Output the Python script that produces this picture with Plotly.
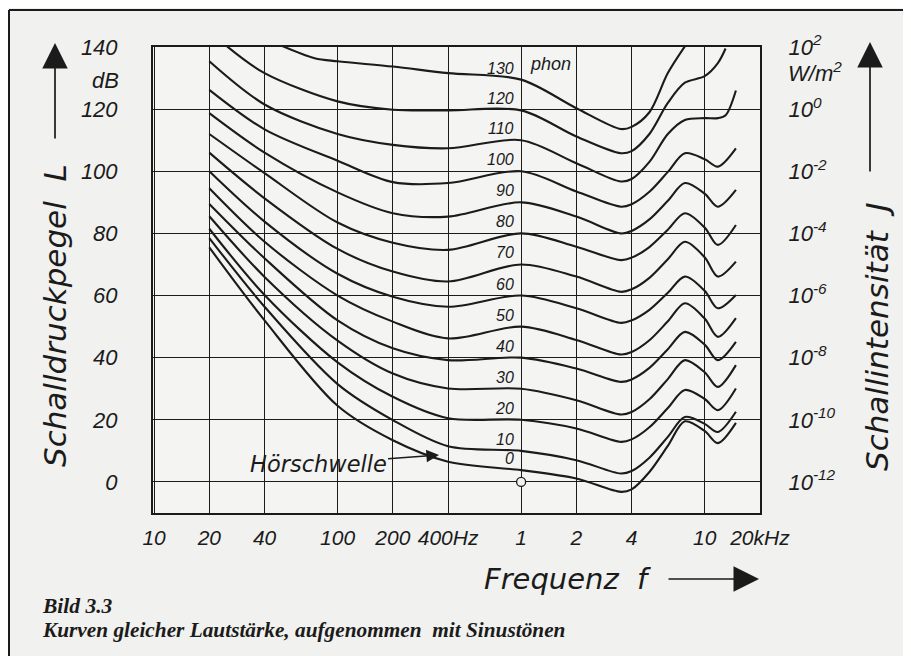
import math
import plotly.graph_objects as go

# ---------------- data ----------------
freq_hz = [20, 25, 40, 50, 75, 100, 200, 400, 1000, 2000, 3500, 4000, 5000, 6300, 7800, 10000, 11800, 13000, 14800]

spl_130 = [None, None, None, 140.3, 136.4, 135.4, 133.7, 131.6, 129.5, 120.3, 113.6, 114.3, 119.0, 131.6, 140.2, None, None, None, None]
spl_120 = [None, 140.2, 131.6, None, None, 122.5, 119.8, 119.6, 119.6, 111.2, 105.8, 106.5, 112.0, 122.0, 128.5, 130.6, 134.8, 139.5, None]
spl_110 = [135.4, None, 121.5, None, None, 112.0, 108.5, 107.4, 110.0, 102.6, 96.7, 97.5, 103.0, 112.0, 116.5, 117.1, 117.1, 118.0, 126.0]
spl_100 = [126.2, None, 113.5, None, None, 103.4, 96.5, 96.2, 100.0, 93.5, 88.6, 89.4, 93.4, 99.8, 105.8, 103.9, 101.5, None, 107.4]
spl_90 = [118.7, None, 106.0, None, None, 93.2, 86.5, 85.4, 90.0, 85.4, 80.0, 80.8, 84.5, 90.5, 96.2, 92.8, 88.6, None, 94.0]
spl_80 = [112.0, None, 99.4, None, None, 83.5, 77.0, 74.7, 80.0, 75.7, 71.4, 72.2, 75.6, 81.2, 86.5, 81.9, 76.3, None, 82.7]
spl_70 = [106.0, None, 91.3, None, None, 75.0, 67.7, 64.5, 70.0, 66.1, 61.2, 62.0, 65.7, 71.7, 77.3, 72.3, 66.1, None, 70.9]
spl_60 = [100.0, None, 83.8, None, None, 67.0, 59.6, 56.4, 60.0, 55.9, 51.2, 52.0, 55.4, 60.9, 66.1, 61.5, 55.9, None, 60.2]
spl_50 = [94.5, None, 77.3, None, None, 60.0, 51.6, 46.2, 50.0, 45.7, 41.0, 41.8, 45.6, 51.7, 57.5, 52.6, 46.7, None, 52.7]
spl_40 = [89.5, None, 72.0, None, None, 52.0, 43.0, 39.2, 40.0, 36.5, 32.2, 33.0, 36.7, 42.7, 48.3, 44.2, 39.2, None, 45.1]
spl_30 = [85.5, None, 66.0, None, None, 45.5, 34.9, 30.1, 30.0, 26.3, 21.7, 22.5, 26.6, 33.1, 39.2, 35.3, 30.6, None, 37.6]
spl_20 = [81.5, None, 60.2, None, None, 38.5, 27.4, 20.5, 20.0, 17.2, 12.9, 13.7, 17.6, 23.8, 29.6, 26.7, 23.1, None, 30.1]
spl_10 = [78.5, None, 56.4, None, None, 31.5, 19.9, 11.5, 10.0, 7.0, 2.7, 3.5, 7.8, 14.5, 20.9, 18.7, 16.1, None, 22.6]
spl_thr = [75.5, None, 52.0, None, None, 24.5, 13.4, 6.5, 3.8, 1.1, -3.2, -2.4, 3.2, 11.6, 19.5, 16.4, 12.5, None, 19.0]

curves = [spl_130, spl_120, spl_110, spl_100, spl_90, spl_80, spl_70,
          spl_60, spl_50, spl_40, spl_30, spl_20, spl_10, spl_thr]
phon_labels = ["130", "120", "110", "100", "90", "80", "70", "60", "50", "40", "30", "20", "10", "0"]

ref_point_hz = [1000]
ref_point_db = [0]

x_tick_vals = [10, 20, 40, 100, 200, 400, 1000, 2000, 4000, 10000, 20000]
x_tick_text = ["10", "20", "40", "100", "200", "400Hz", "1", "2", "4", "10", "20kHz"]
y_tick_vals = [0, 20, 40, 60, 80, 100, 120, 140]
y_tick_text = ["0", "20", "40", "60", "80", "100", "120", "140"]
j_tick_text = ["10<sup>-12</sup>", "10<sup>-10</sup>", "10<sup>-8</sup>", "10<sup>-6</sup>",
               "10<sup>-4</sup>", "10<sup>-2</sup>", "10<sup>0</sup>", "10<sup>2</sup>"]

# ---------------- layout geometry ----------------
# positions below are page pixels of the reference; the page body adds an 8 px offset
OFF = 8
W, H = 911 - OFF, 656 - OFF
PL, PR, PT, PB = 153, 760, 47, 513          # plot area in page pixels
INK = "#1b1b1b"
PAPER = "#f1f1ef"


def px(x):
    return (x - PL) / (PR - PL)


def py(y):
    return (PB - y) / (PB - PT)


lettering = "Liberation Sans, Arial, sans-serif"
titlefont = "DejaVu Sans, Verdana, sans-serif"
serif = "Liberation Serif, Times New Roman, serif"

fig = go.Figure()

for vals in curves:
    fig.add_trace(go.Scatter(
        x=freq_hz, y=vals, mode="lines", connectgaps=True,
        line=dict(color=INK, width=2.1, shape="spline", smoothing=0.9),
        showlegend=False, hoverinfo="skip"))

fig.add_trace(go.Scatter(
    x=ref_point_hz, y=ref_point_db, mode="markers",
    marker=dict(symbol="circle", size=9, color=PAPER, line=dict(color=INK, width=1.3)),
    showlegend=False, hoverinfo="skip", cliponaxis=False))

# invisible trace so the right-hand axis is drawn
fig.add_trace(go.Scatter(x=[1000], y=[0], yaxis="y2", mode="markers",
                         marker=dict(size=1, color="rgba(0,0,0,0)"),
                         showlegend=False, hoverinfo="skip"))

tickfont = dict(family=lettering, size=22, color=INK, style="italic")

fig.update_layout(
    width=W, height=H, autosize=False,
    margin=dict(l=PL - OFF, r=W - (PR - OFF), t=PT - OFF, b=H - (PB - OFF)),
    paper_bgcolor=PAPER, plot_bgcolor="#f4f4f2",
    xaxis=dict(type="log", range=[0.9943, 4.3015],
               tickvals=x_tick_vals, ticktext=x_tick_text, tickangle=0,
               showgrid=True, gridcolor=INK, gridwidth=1.3,
               showline=True, linecolor=INK, linewidth=2, mirror=True,
               ticks="outside", ticklen=5, tickcolor="rgba(0,0,0,0)",
               tickfont=dict(family=lettering, size=21, color=INK, style="italic"),
               zeroline=False, fixedrange=True),
    yaxis=dict(range=[-10, 140], tickvals=y_tick_vals, ticktext=y_tick_text,
               showgrid=True, gridcolor=INK, gridwidth=1.3,
               showline=True, linecolor=INK, linewidth=2, mirror=True,
               ticks="outside", ticklen=29, tickcolor="rgba(0,0,0,0)",
               tickfont=tickfont, zeroline=False, fixedrange=True),
    yaxis2=dict(range=[-10, 140], overlaying="y", side="right",
                tickvals=y_tick_vals, ticktext=j_tick_text,
                showgrid=False, showline=False, zeroline=False,
                ticks="outside", ticklen=23, tickcolor="rgba(0,0,0,0)",
                tickfont=dict(family=lettering, size=22, color=INK, style="italic"),
                fixedrange=True),
)

ann = []
# phon labels, just left of the 1 kHz line, above each curve
label_x = (517 + 28.17) / 183.54
for lab, vals in zip(phon_labels, curves):
    ann.append(dict(x=label_x, y=vals[freq_hz.index(1000)] + 3.7, xref="x", yref="y",
                    text=lab, showarrow=False, xanchor="right", yanchor="middle",
                    font=dict(family=lettering, size=16, color=INK, style="italic")))
ann.append(dict(x=px(528), y=py(64), xref="paper", yref="paper", text="phon",
                showarrow=False, xanchor="left", yanchor="middle",
                font=dict(family=lettering, size=18, color=INK, style="italic")))

# units next to the scales
ann.append(dict(x=px(121), y=py(80), xref="paper", yref="paper", text="dB",
                showarrow=False, xanchor="right", yanchor="middle",
                font=dict(family=lettering, size=22, color=INK, style="italic")))
ann.append(dict(x=px(786), y=py(72), xref="paper", yref="paper", text="W/m<sup>2</sup>",
                showarrow=False, xanchor="left", yanchor="middle",
                font=dict(family=lettering, size=22, color=INK, style="italic")))

# axis titles
centered = dict(xref="paper", yref="paper", showarrow=False,
                xanchor="center", yanchor="middle")
ann.append(dict(centered, x=px(55), y=py(316), text="Schalldruckpegel  L", textangle=-90,
                font=dict(family=titlefont, size=31, color=INK, style="italic")))
ann.append(dict(centered, x=px(877), y=py(337), text="Schallintensität  J", textangle=-90,
                font=dict(family=titlefont, size=31, color=INK, style="italic")))
ann.append(dict(centered, x=px(567), y=py(579), text="Frequenz  f",
                font=dict(family=titlefont, size=29, color=INK, style="italic")))

# arrows of the axis titles
arrow = dict(xref="paper", yref="paper", text="", showarrow=True, arrowhead=2,
             arrowsize=3, arrowwidth=1.7, arrowcolor=INK)
ann.append(dict(arrow, x=px(55), y=py(43), ax=0, ay=97))
ann.append(dict(arrow, x=px(870), y=py(42), ax=0, ay=131))
ann.append(dict(arrow, x=px(759), y=py(579), ax=-92, ay=0))

# Hörschwelle pointer
ann.append(dict(x=px(439), y=py(455), xref="paper", yref="paper",
                text="Hörschwelle", showarrow=True, ax=-121, ay=9,
                arrowhead=2, arrowsize=1.8, arrowwidth=1.4, arrowcolor=INK,
                font=dict(family=titlefont, size=22.5, color=INK, style="italic")))

# caption
ann.append(dict(x=px(40), y=py(606), xref="paper", yref="paper", text="<b>Bild 3.3</b>",
                showarrow=False, xanchor="left", yanchor="middle",
                font=dict(family=serif, size=21.5, color=INK, style="italic")))
ann.append(dict(x=px(40), y=py(630), xref="paper", yref="paper",
                text="<b>Kurven gleicher Lautstärke, aufgenommen  mit Sinustönen</b>",
                showarrow=False, xanchor="left", yanchor="middle",
                font=dict(family=serif, size=21.3, color=INK, style="italic")))

fig.update_layout(annotations=ann)

# page frame (top and left edge visible in the scan)
fig.add_shape(type="line", xref="paper", yref="paper", x0=px(9), x1=px(930),
              y0=py(10), y1=py(10), line=dict(color=INK, width=2))
fig.add_shape(type="line", xref="paper", yref="paper", x0=px(9), x1=px(9),
              y0=py(10), y1=py(680), line=dict(color=INK, width=2))

fig.write_html("out.html")
